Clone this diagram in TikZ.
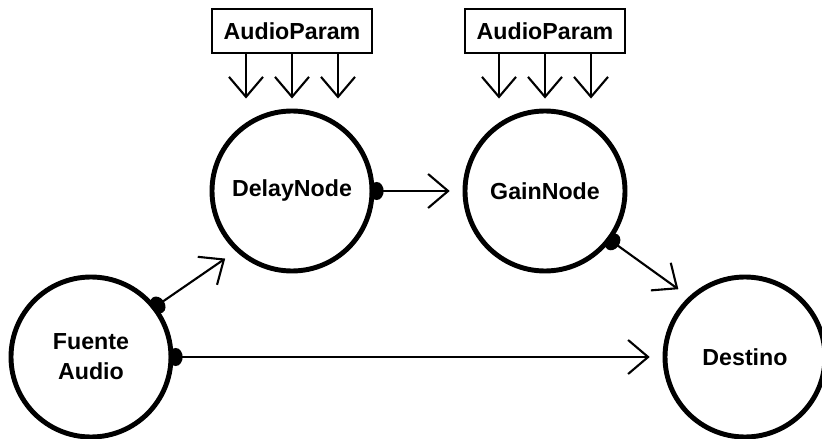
\documentclass[tikz,border=0pt]{standalone}
\usepackage{fontspec}
\setmainfont{Liberation Sans}
\usetikzlibrary{arrows.meta,positioning}

\begin{document}
\begin{tikzpicture}[
  node distance=4cm, on grid,
  audionode/.style={circle, draw=black, line width=3.5pt, minimum size=4cm,
                    inner sep=0pt, align=center,
                    font=\fontsize{16.5pt}{21.5pt}\selectfont\bfseries},
  param/.style={rectangle, draw=black, line width=1.4pt,
                minimum width=4cm, minimum height=1.1cm,
                font=\fontsize{16.5pt}{20pt}\selectfont\bfseries},
  conn/.style={{Ellipse[length=0.35cm,width=0.45cm]}-{Straight Barb[length=0.5cm,width=0.85cm]},
               line width=1.5pt, shorten <=-0.12cm, shorten >=0.32cm},
  modarrow/.style={-{Straight Barb[length=0.5cm,width=0.85cm]},
                   line width=1.5pt, shorten >=0.25cm},
]
  \useasboundingbox (0,0) rectangle (20.55,-10.975);

  \node[audionode] (fuente) at (2.275,-8.925) {Fuente\\Audio};
  \node[audionode, above right=4.15cm and 5.025cm of fuente] (delay) {DelayNode};
  \node[audionode, right=6.325cm of delay] (gain) {GainNode};
  \node[audionode, right=16.35cm of fuente] (destino) {Destino};

  \node[param, above=of delay] (delayparam) {AudioParam};
  \node[param, above=of gain] (gainparam) {AudioParam};

  \draw[conn] (fuente.38) -- (delay.227);
  \draw[conn] (fuente.east) -- (destino.west);
  \draw[conn] (delay.east) -- (gain.west);
  \draw[conn] (gain.-37) -- (destino.133);

  \foreach \dx in {-1.15,0,1.15} {
    \draw[modarrow] ([xshift=\dx cm]delayparam.south) -- ([xshift=\dx cm]delay.north);
    \draw[modarrow] ([xshift=\dx cm]gainparam.south) -- ([xshift=\dx cm]gain.north);
  }
\end{tikzpicture}
\end{document}
